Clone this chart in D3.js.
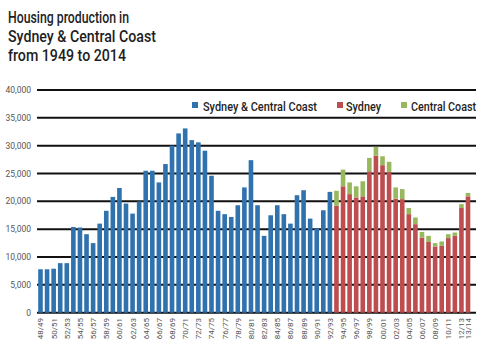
<!DOCTYPE html>
<html><head><meta charset="utf-8">
<script src="https://cdn.jsdelivr.net/npm/d3@7"></script>
<style>body{margin:0;background:#fff}svg{display:block}</style>
</head><body><svg id="c" width="500" height="356"></svg>
<script>
const years = ["48/49","49/50","50/51","51/52","52/53","53/54","54/55","55/56","56/57","57/58","58/59","59/60","60/61","61/62","62/63","63/64","64/65","65/66","66/67","67/68","68/69","69/70","70/71","71/72","72/73","73/74","74/75","75/76","76/77","77/78","78/79","79/80","80/81","81/82","82/83","83/84","84/85","85/86","86/87","87/88","88/89","89/90","90/91","91/92","92/93","93/94","94/95","95/96","96/97","97/98","98/99","99/00","00/01","01/02","02/03","03/04","04/05","05/06","06/07","07/08","08/09","09/10","10/11","11/12","12/13","13/14"];
const combined = [7800,7800,7900,8900,8900,15400,15300,14100,12500,16000,18300,20800,22400,19600,17800,20000,25500,25500,23400,26700,30000,32200,33100,31000,30600,29100,24600,18300,17700,17200,19300,22500,27400,19300,13800,17500,19300,17700,16000,21100,22000,16900,15100,18400,21700];
const sydney = [19200,22700,21300,20700,20900,25400,28200,26500,25300,20500,20400,17700,15900,13500,12700,11900,12000,13400,13800,18800,20900];
const centralCoast = [2700,3000,2100,2000,2700,2400,1600,1600,1800,2000,1800,1100,1200,1000,1100,600,800,700,600,700,600];
const yTicks = [0,5000,10000,15000,20000,25000,30000,35000,40000];
const xLabels = ["48/49","50/51","52/53","54/55","56/57","58/59","60/61","62/63","64/65","66/67","68/69","70/71","72/73","74/75","76/77","78/79","80/81","82/83","84/85","86/87","88/89","90/91","92/93","94/95","96/97","98/99","00/01","02/03","04/05","06/07","08/09","10/11","12/13","13/14"];
const seriesNames = ["Sydney & Central Coast","Sydney","Central Coast"];
const colors = ["#2f72ae","#bd4d4f","#98b85e"];

const svg = d3.select("#c");
const font = "Roboto, 'Liberation Sans', sans-serif";

const x = d3.scaleBand().domain(years).range([37.2, 471.3]).paddingInner(0.3).paddingOuter(0.15);
const y = d3.scaleLinear().domain([0,40000]).range([312.7, 90]);

// title
const title = ["Housing production in","Sydney & Central Coast","from 1949 to 2014"];
const tl = [121, 148, 118];
title.forEach((t,i)=>{
  svg.append("text").attr("x",8).attr("y",23+i*19.2).text(t)
    .attr("font-family",font).attr("font-size",16.5).attr("font-weight",500).attr("fill","#1e1e1e")
    .attr("textLength",tl[i]).attr("lengthAdjust","spacingAndGlyphs");
});

// gridlines
svg.append("g").selectAll("line").data(yTicks).join("line")
  .attr("x1",37).attr("x2",476).attr("y1",d=>y(d)).attr("y2",d=>y(d))
  .attr("stroke","#111").attr("stroke-width",2);

// y labels
svg.append("g").selectAll("text").data(yTicks).join("text")
  .attr("x",31).attr("y",d=>y(d)+3).attr("text-anchor","end")
  .attr("font-family",font).attr("font-size",8.5).attr("fill","#555")
  .text(d=>d3.format(",")(d));

// bars
const g = svg.append("g");
g.selectAll("rect.c").data(combined).join("rect").attr("class","c")
  .attr("x",(d,i)=>x(years[i])).attr("width",x.bandwidth())
  .attr("y",d=>y(d)).attr("height",d=>y(0)-y(d)).attr("fill",colors[0]);
const off = combined.length;
g.selectAll("rect.s").data(sydney).join("rect").attr("class","s")
  .attr("x",(d,i)=>x(years[i+off])).attr("width",x.bandwidth())
  .attr("y",d=>y(d)).attr("height",d=>y(0)-y(d)).attr("fill",colors[1]);
g.selectAll("rect.cc").data(centralCoast).join("rect").attr("class","cc")
  .attr("x",(d,i)=>x(years[i+off])).attr("width",x.bandwidth())
  .attr("y",(d,i)=>y(sydney[i]+d)).attr("height",(d,i)=>y(sydney[i])-y(sydney[i]+d)).attr("fill",colors[2]);

// x labels
svg.append("g").selectAll("text").data(xLabels).join("text")
  .attr("transform",d=>`translate(${x(d)+x.bandwidth()/2+3},318) rotate(-90)`)
  .attr("text-anchor","end").attr("font-family",font).attr("font-size",8).attr("fill","#555")
  .text(d=>d);

// legend
const leg = [{sx:192,tx:203,tw:114},{sx:337,tx:346,tw:35},{sx:401,tx:411,tw:65}];
leg.forEach((l,i)=>{
  svg.append("rect").attr("x",l.sx).attr("y",102).attr("width",6).attr("height",6).attr("fill",colors[i]);
  svg.append("text").attr("x",l.tx).attr("y",110.5).text(seriesNames[i])
    .attr("font-family",font).attr("font-size",13.5).attr("font-weight",500).attr("fill","#1e1e1e")
    .attr("textLength",l.tw).attr("lengthAdjust","spacingAndGlyphs");
});
</script></body></html>
